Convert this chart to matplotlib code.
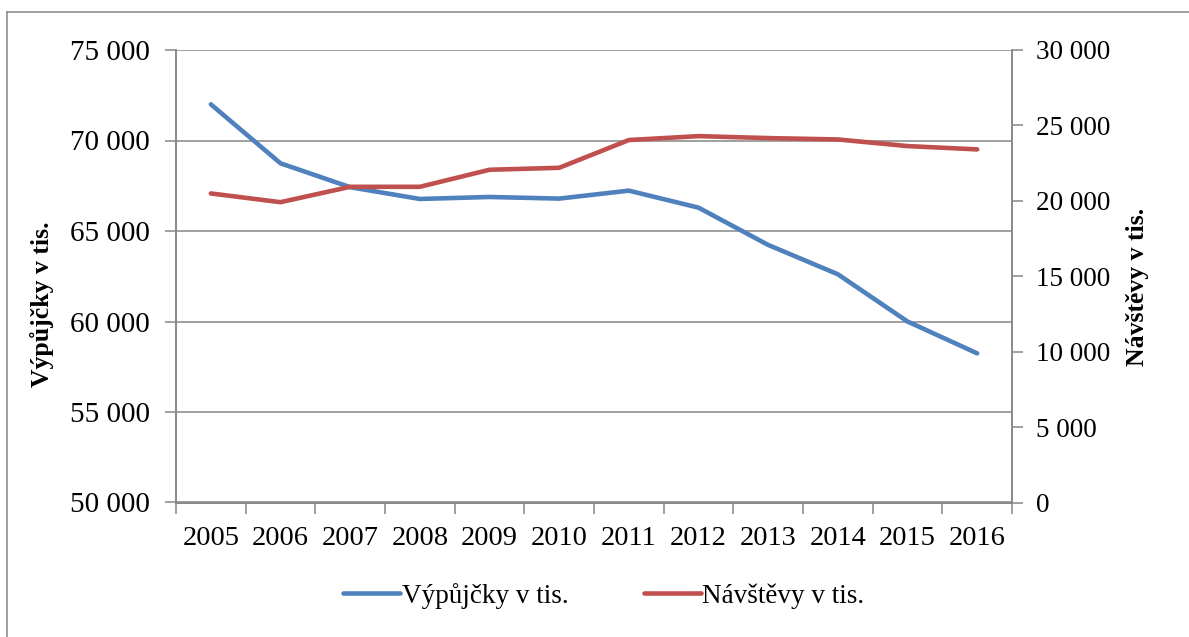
import matplotlib
matplotlib.use("Agg")
import matplotlib.pyplot as plt
from matplotlib.lines import Line2D
from matplotlib.ticker import FuncFormatter

# data
years = ["2005", "2006", "2007", "2008", "2009", "2010",
         "2011", "2012", "2013", "2014", "2015", "2016"]
vypujcky = [72000, 68740, 67420, 66770, 66880, 66790,
            67230, 66290, 64230, 62610, 60000, 58240]
navstevy = [20490, 19910, 20930, 20930, 22060, 22190,
            24030, 24290, 24160, 24070, 23630, 23410]

c_blue = '#4F81BD'
c_red = '#C0504D'
c_grid = '#868686'

plt.rcParams['font.family'] = ['Liberation Serif', 'DejaVu Serif']

def thousands(v, pos):
    return f"{int(v):,}".replace(",", " ")

fig = plt.figure(figsize=(11.89, 6.37), dpi=100)
ax = fig.add_axes([176 / 1189, 1 - 502.5 / 637, (1012 - 176) / 1189, (502.5 - 50) / 637])
ax2 = ax.twinx()

x = list(range(len(years)))
l1, = ax.plot(x, vypujcky, color=c_blue, linewidth=3.3, solid_capstyle='round', zorder=3)
l2, = ax2.plot(x, navstevy, color=c_red, linewidth=3.3, solid_capstyle='round', zorder=3)

# left axis
ax.set_ylim(50000, 75000)
ax.set_yticks(range(50000, 75001, 5000))
ax.yaxis.set_major_formatter(FuncFormatter(thousands))
ax.grid(True, axis='y', color=c_grid, linewidth=1.1)
ax.set_axisbelow(True)
ax.tick_params(axis='y', direction='out', length=8, width=1.1, color=c_grid,
               labelsize=21, pad=11)
ax.set_ylabel("Výpůjčky v tis.", fontsize=18.5, fontweight='bold')
ax.yaxis.set_label_coords((54 - 176) / 836, 0.438)

# categories: ticks between years, labels at centres
ax.set_xlim(-0.5, len(years) - 0.5)
ax.set_xticks([i - 0.5 for i in range(len(years) + 1)])
ax.set_xticklabels([])
ax.set_xticks(x, minor=True)
ax.set_xticklabels(years, minor=True)
ax.tick_params(axis='x', which='major', direction='out', length=8, width=1.1, color=c_grid)
ax.tick_params(axis='x', which='minor', length=0, labelsize=20.5, pad=17)

# right axis
ax2.set_ylim(0, 30000)
ax2.set_yticks(range(0, 30001, 5000))
ax2.yaxis.set_major_formatter(FuncFormatter(thousands))
ax2.tick_params(axis='y', direction='out', length=8, width=1.1, color=c_grid,
                labelsize=19.5, pad=9)
ax2.set_ylabel("Návštěvy v tis.", fontsize=18.5, fontweight='bold')
ax2.yaxis.set_label_coords((1126 - 176) / 836, 0.476)

for a in (ax, ax2):
    a.spines['top'].set_visible(False)
    for s in ('left', 'right', 'bottom'):
        a.spines[s].set_color(c_grid)
        a.spines[s].set_linewidth(1.1)

fig.legend([l1, l2], ["Výpůjčky v tis.", "Návštěvy v tis."],
           loc='center', bbox_to_anchor=(604 / 1189, 1 - 596 / 637),
           ncol=2, frameon=False, fontsize=19.5, handlelength=2.1,
           handletextpad=0.05, columnspacing=2.8)

# outer chart border (top and left visible)
fig.add_artist(Line2D([7 / 1189, 7 / 1189], [0, 1 - 12 / 637], transform=fig.transFigure,
                      color=c_grid, linewidth=1.1))
fig.add_artist(Line2D([7 / 1189, 1], [1 - 12 / 637, 1 - 12 / 637], transform=fig.transFigure,
                      color=c_grid, linewidth=1.1))

fig.savefig("out.png", dpi=100)
